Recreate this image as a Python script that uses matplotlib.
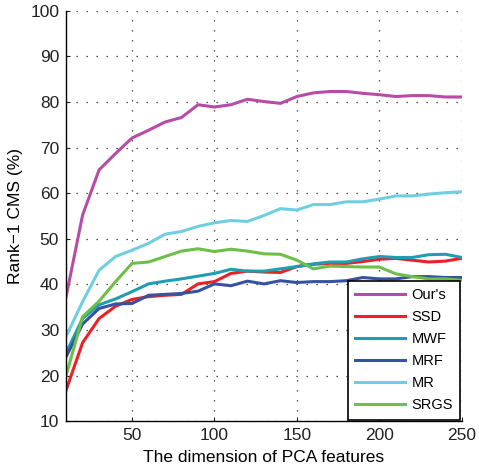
import matplotlib
matplotlib.use('Agg')
import matplotlib.pyplot as plt

dims = [10, 20, 30, 40, 50, 60, 70, 80, 90, 100, 110, 120, 130,
        140, 150, 160, 170, 180, 190, 200, 210, 220, 230, 240, 250]

ours = [37.3, 55.2, 65.1, 68.7, 72.1, 73.8, 75.6, 76.6, 79.4, 78.9, 79.4, 80.6, 80.1,
        79.7, 81.2, 82.0, 82.3, 82.3, 81.9, 81.6, 81.2, 81.4, 81.4, 81.1, 81.1]
ssd = [16.8, 27.2, 32.5, 35.2, 36.7, 37.3, 37.6, 37.8, 40.1, 40.6, 42.4, 42.9, 42.7,
       42.6, 43.9, 44.4, 44.6, 44.6, 45.0, 45.5, 45.7, 45.3, 44.9, 45.1, 45.7]
mwf = [25.0, 32.5, 35.5, 36.8, 38.4, 40.1, 40.7, 41.2, 41.8, 42.4, 43.3, 42.9, 42.9,
       43.4, 43.9, 44.5, 44.9, 44.9, 45.6, 46.1, 45.9, 45.9, 46.5, 46.6, 45.9]
mrf = [24.1, 31.3, 34.7, 35.7, 35.8, 37.6, 37.8, 38.0, 38.5, 40.1, 39.7, 40.7, 40.1,
       40.8, 40.4, 40.6, 40.6, 40.8, 41.5, 41.2, 41.2, 41.7, 41.7, 41.5, 41.5]
mr = [28.6, 36.2, 43.1, 46.1, 47.5, 49.0, 51.0, 51.6, 52.7, 53.5, 54.0, 53.8, 55.1,
      56.6, 56.3, 57.5, 57.5, 58.1, 58.1, 58.7, 59.4, 59.4, 59.8, 60.1, 60.3]
srgs = [20.0, 32.9, 36.3, 40.6, 44.6, 44.9, 46.1, 47.3, 47.8, 47.2, 47.7, 47.3, 46.7,
        46.6, 45.3, 43.4, 44.0, 43.9, 43.8, 43.8, 42.3, 41.7, 41.2, 41.2, 40.9]

series = [("Our's", ours, '#b64ca6'),
          ('SSD', ssd, '#ee2027'),
          ('MWF', mwf, '#1f9db2'),
          ('MRF', mrf, '#3552a3'),
          ('MR', mr, '#6fcfe1'),
          ('SRGS', srgs, '#6cbf47')]

plt.rcParams['font.family'] = ['Liberation Sans', 'DejaVu Sans']

fig = plt.figure(figsize=(4.79, 4.70), dpi=100)
ax = fig.add_axes([0.138, 0.104, 0.826, 0.873])

for name, vals, col in series:
    ax.plot(dims, vals, color=col, lw=2.2, label=name, solid_joinstyle='round')

ax.set_xlim(10, 250)
ax.set_ylim(10, 100)
ax.set_xticks([50, 100, 150, 200, 250])
ax.set_yticks(range(10, 101, 10))
ax.grid(True, linestyle=(0, (1, 7)), color='#222222', lw=0.9)
ax.tick_params(direction='in', length=3, labelsize=12.5, colors='#222222', pad=5)
for s in ['top', 'right']:
    ax.spines[s].set_visible(False)
for s in ['left', 'bottom']:
    ax.spines[s].set_linewidth(1.0)

ax.set_xlabel('The dimension of PCA features', fontsize=12.5, labelpad=5)
ax.set_ylabel('Rank\u22121 CMS (%)', fontsize=12.5, labelpad=5)

leg = ax.legend(loc='lower right', fontsize=10.5, fancybox=False, framealpha=1,
                edgecolor='black', borderaxespad=0.1, handlelength=3.4,
                handletextpad=0.45, labelspacing=0.55, borderpad=0.5)
leg.get_frame().set_linewidth(1.2)

fig.savefig('out.png', dpi=100)
